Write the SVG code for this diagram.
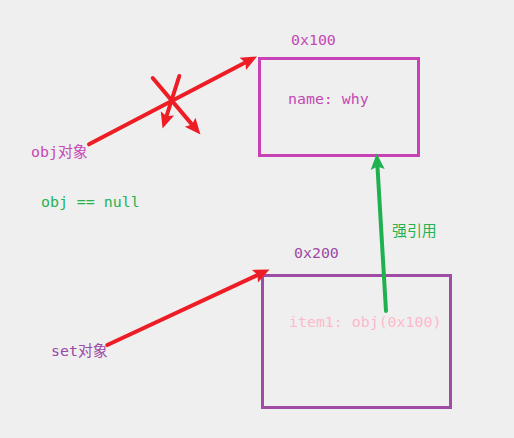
<svg xmlns="http://www.w3.org/2000/svg" width="514" height="438" viewBox="0 0 514 438">
<style>
text{font-family:"DejaVu Sans Mono","Liberation Mono","Noto Sans CJK SC",monospace;font-size:14.9px}
.red{stroke:#ee1d25;stroke-width:4;fill:none;stroke-linecap:round}
.grn{stroke:#1fb14f;stroke-width:4;fill:none;stroke-linecap:round}
.mag{fill:#c548b6}
.pur{fill:#9c4aa6}
.gt{fill:#25b350}
</style>
<defs>
<marker id="ar" markerUnits="userSpaceOnUse" markerWidth="18" markerHeight="16" refX="6" refY="7" orient="auto" overflow="visible">
<path d="M0,0 L16,7 L0,14 L3,7 Z" fill="#ee1d25"/>
</marker>
<marker id="ag" markerUnits="userSpaceOnUse" markerWidth="18" markerHeight="16" refX="6" refY="7" orient="auto" overflow="visible">
<path d="M0,0 L16,7 L0,14 L3,7 Z" fill="#1fb14f"/>
</marker>
</defs>
<rect width="514" height="438" fill="#efefef"/>
<g id="obj100">
<rect x="259.5" y="58.5" width="159" height="97" fill="none" stroke="#c842b6" stroke-width="3"/>
<text x="291" y="45" class="mag">0x100</text>
<text x="288" y="104" class="mag">name: why</text>
</g>
<g id="set200">
<rect x="262.5" y="275.5" width="188" height="132" fill="none" stroke="#9e4ca6" stroke-width="3"/>
<text x="294" y="258" class="pur">0x200</text>
<text x="289" y="327" fill="#ffb8cb">item1: obj(0x100)</text>
</g>
<g id="objLabel">
<text x="31" y="157" class="mag">obj对象</text>
<text x="41" y="207" class="gt">obj == null</text>
</g>
<g id="setLabel">
<text x="51" y="356" class="pur">set对象</text>
</g>
<g id="connectors">
<line class="red" x1="89" y1="144.3" x2="248.1" y2="61.1" marker-end="url(#ar)"/>
<line class="red" x1="152.7" y1="78" x2="194" y2="126.9" marker-end="url(#ar)"/>
<line class="red" x1="179.3" y1="76" x2="165.6" y2="119" marker-end="url(#ar)"/>
<line class="red" x1="107.3" y1="345" x2="260.4" y2="273.7" marker-end="url(#ar)"/>
<line class="grn" x1="386" y1="311" x2="377.3" y2="163.5" marker-end="url(#ag)"/>
<text x="392" y="236" class="gt">强引用</text>
</g>
</svg>
